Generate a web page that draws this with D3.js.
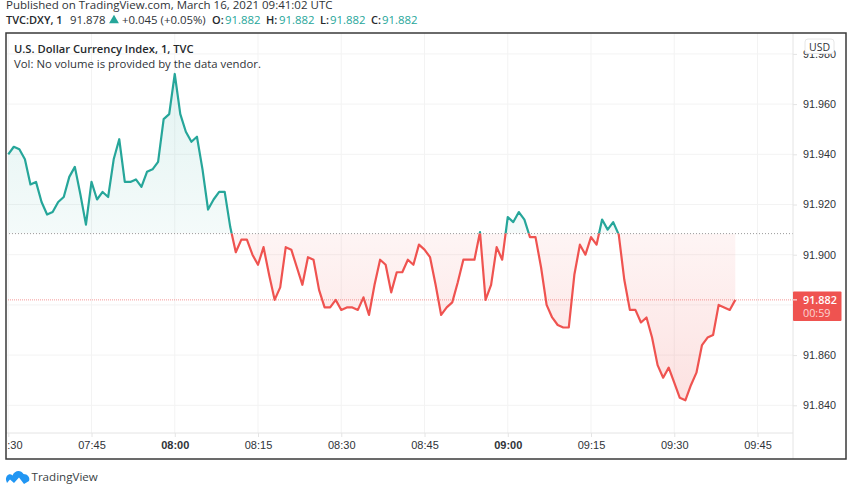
<!DOCTYPE html>
<html>
<head>
<meta charset="utf-8">
<script src="https://cdn.jsdelivr.net/npm/d3@7"></script>
<style>
  html, body { margin: 0; padding: 0; background: white; overflow: hidden; }
  svg { display: block; font-family: "Open Sans", sans-serif; }
  .axis path { display: none; }
</style>
</head>
<body>
<div id="chart"></div>
<script>
// one close per minute, starting 07:30
const startTime = "2021-03-16T07:30:00Z";
const prices = [
  91.940, 91.943, 91.942, 91.938, 91.928, 91.929, 91.921, 91.916, 91.917, 91.921,
  91.923, 91.931, 91.935, 91.924, 91.912, 91.929, 91.922, 91.925, 91.923, 91.938,
  91.946, 91.929, 91.929, 91.930, 91.927, 91.933, 91.934, 91.937, 91.954, 91.956,
  91.972, 91.956, 91.949, 91.945, 91.947, 91.934, 91.918, 91.922, 91.925, 91.925,
  91.911, 91.901, 91.906, 91.906, 91.900, 91.896, 91.903, 91.892, 91.882, 91.887,
  91.903, 91.902, 91.895, 91.888, 91.899, 91.898, 91.886, 91.879, 91.879, 91.882,
  91.878, 91.879, 91.879, 91.878, 91.883, 91.876, 91.888, 91.898, 91.896, 91.885,
  91.893, 91.893, 91.898, 91.896, 91.904, 91.902, 91.899, 91.888, 91.876, 91.879,
  91.881, 91.889, 91.898, 91.898, 91.898, 91.909, 91.882, 91.888, 91.903, 91.898,
  91.915, 91.913, 91.917, 91.914, 91.907, 91.907, 91.895, 91.880, 91.875, 91.872,
  91.871, 91.871, 91.892, 91.904, 91.900, 91.907, 91.904, 91.914, 91.910, 91.913,
  91.908, 91.890, 91.878, 91.878, 91.873, 91.875, 91.867, 91.856, 91.851, 91.855,
  91.849, 91.843, 91.842, 91.848, 91.853, 91.864, 91.867, 91.868, 91.880, 91.879,
  91.878, 91.882
];
const basePrice = 91.9084;
const lastPrice = 91.882;
const priceTicks = [91.84, 91.86, 91.88, 91.90, 91.92, 91.94, 91.96, 91.98];
const timeTicks = ["07:30", "07:45", "08:00", "08:15", "08:30", "08:45", "09:00", "09:15", "09:30", "09:45"];
const boldTimes = ["08:00", "09:00"];
const ohlc = [["O:", 212, 225], ["H:", 266, 279], ["L:", 320, 330], ["C:", 371, 382]];

const width = 852, height = 485;
const frame = { left: 6, top: 33, right: 846, bottom: 459, axisX: 793, axisY: 433 };

const up = "#26a69a", down = "#ef5350", textColor = "#2f3338", grid = "#f3f3f3";

const parseTime = d3.utcParse("%Y-%m-%dT%H:%M:%SZ");
const toDate = (t) => parseTime(`2021-03-16T${t}:00Z`);
const t0 = parseTime(startTime);
const points = prices.map((p, i) => ({ t: d3.utcMinute.offset(t0, i), p: p }));

const x = d3.scaleUtc()
    .domain([toDate("07:30"), toDate("09:45")])
    .range([8.25, 757.5]);

const y = d3.scaleLinear()
    .domain([91.84, 91.96])
    .range([405.3, 104.1]);

const svg = d3.select("#chart").append("svg")
    .attr("width", width)
    .attr("height", height);

const defs = svg.append("defs");

// plot and side clips
defs.append("clipPath").attr("id", "plot").append("rect")
    .attr("x", frame.left + 1).attr("y", frame.top)
    .attr("width", frame.axisX - frame.left - 1).attr("height", frame.axisY - frame.top);
defs.append("clipPath").attr("id", "above").append("rect")
    .attr("x", 0).attr("y", 0).attr("width", width).attr("height", y(basePrice));
defs.append("clipPath").attr("id", "below").append("rect")
    .attr("x", 0).attr("y", y(basePrice)).attr("width", width).attr("height", height - y(basePrice));
defs.append("clipPath").attr("id", "timeClip").append("rect")
    .attr("x", frame.left + 1).attr("y", frame.axisY)
    .attr("width", frame.axisX - frame.left - 1).attr("height", frame.bottom - frame.axisY);

// gradients for the two fills
const upGrad = defs.append("linearGradient").attr("id", "upFill")
    .attr("gradientUnits", "userSpaceOnUse")
    .attr("x1", 0).attr("x2", 0).attr("y1", y(d3.max(prices))).attr("y2", y(basePrice));
upGrad.append("stop").attr("offset", 0).attr("stop-color", up).attr("stop-opacity", 0.13);
upGrad.append("stop").attr("offset", 1).attr("stop-color", up).attr("stop-opacity", 0.05);

const downGrad = defs.append("linearGradient").attr("id", "downFill")
    .attr("gradientUnits", "userSpaceOnUse")
    .attr("x1", 0).attr("x2", 0).attr("y1", y(basePrice)).attr("y2", y(d3.min(prices)));
downGrad.append("stop").attr("offset", 0).attr("stop-color", down).attr("stop-opacity", 0.06);
downGrad.append("stop").attr("offset", 1).attr("stop-color", down).attr("stop-opacity", 0.17);

// START grid
const gridG = svg.append("g").attr("clip-path", "url(#plot)");
gridG.selectAll(".hgrid").data(priceTicks).enter().append("line")
    .attr("x1", frame.left).attr("x2", frame.axisX)
    .attr("y1", (d) => y(d)).attr("y2", (d) => y(d))
    .attr("stroke", grid);
gridG.selectAll(".vgrid").data(timeTicks).enter().append("line")
    .attr("x1", (d) => x(toDate(d))).attr("x2", (d) => x(toDate(d)))
    .attr("y1", frame.top).attr("y2", frame.axisY)
    .attr("stroke", grid);
// END grid

// START baseline area and line
const area = d3.area()
    .x((d) => x(d.t))
    .y0(y(basePrice))
    .y1((d) => y(d.p));
const line = d3.line()
    .x((d) => x(d.t))
    .y((d) => y(d.p));

const plot = svg.append("g").attr("clip-path", "url(#plot)");
plot.append("g").attr("clip-path", "url(#above)").append("path")
    .datum(points).attr("d", area).attr("fill", "url(#upFill)");
plot.append("g").attr("clip-path", "url(#below)").append("path")
    .datum(points).attr("d", area).attr("fill", "url(#downFill)");

plot.append("line")
    .attr("x1", frame.left).attr("x2", frame.axisX)
    .attr("y1", y(basePrice)).attr("y2", y(basePrice))
    .attr("stroke", "#9a9a9a").attr("stroke-dasharray", "1 2");
plot.append("line")
    .attr("x1", frame.left).attr("x2", frame.axisX)
    .attr("y1", y(lastPrice)).attr("y2", y(lastPrice))
    .attr("stroke", down).attr("stroke-opacity", 0.6).attr("stroke-dasharray", "1 1");

plot.append("g").attr("clip-path", "url(#above)").append("path")
    .datum(points).attr("d", line)
    .attr("fill", "none").attr("stroke", up).attr("stroke-width", 2.2).attr("stroke-linejoin", "round");
plot.append("g").attr("clip-path", "url(#below)").append("path")
    .datum(points).attr("d", line)
    .attr("fill", "none").attr("stroke", down).attr("stroke-width", 2.2).attr("stroke-linejoin", "round");
// END baseline area and line

// START axes
svg.append("g")
    .attr("class", "axis")
    .attr("transform", `translate(${frame.axisX}, 0)`)
    .call(d3.axisRight(y).tickValues(priceTicks).tickSize(4).tickPadding(6).tickFormat(d3.format(".3f")))
    .call((g) => g.selectAll("line").attr("stroke", "#e4e4e4"))
    .call((g) => g.selectAll("text").attr("fill", textColor).style("font-size", "10.8px"));

const timeAxis = svg.append("g")
    .attr("clip-path", "url(#timeClip)")
    .append("g")
    .attr("class", "axis")
    .attr("transform", `translate(0, ${frame.axisY})`)
    .call(d3.axisBottom(x)
        .tickValues(timeTicks.map(toDate))
        .tickSize(4).tickPadding(4)
        .tickFormat(d3.utcFormat("%H:%M")));
timeAxis.selectAll("line").attr("stroke", "#e4e4e4");
timeAxis.selectAll("text")
    .attr("fill", textColor)
    .style("font-size", "11px")
    .style("font-weight", (d) => boldTimes.includes(d3.utcFormat("%H:%M")(d)) ? 600 : 400);

// separators and outer frame
svg.append("line").attr("x1", frame.axisX).attr("x2", frame.axisX)
    .attr("y1", frame.top).attr("y2", frame.bottom).attr("stroke", "#e4e4e4");
svg.append("line").attr("x1", frame.left).attr("x2", frame.axisX)
    .attr("y1", frame.axisY).attr("y2", frame.axisY).attr("stroke", "#e4e4e4");
svg.append("rect")
    .attr("x", frame.left).attr("y", frame.top)
    .attr("width", frame.right - frame.left).attr("height", frame.bottom - frame.top)
    .attr("fill", "none").attr("stroke", "#3a3a3a").attr("stroke-width", 1.5);
// END axes

// last price label
svg.append("rect")
    .attr("x", frame.axisX).attr("y", y(lastPrice) - 8.5)
    .attr("width", 48.5).attr("height", 29.5)
    .attr("rx", 1).attr("fill", down);
svg.append("line")
    .attr("x1", frame.axisX).attr("x2", frame.axisX + 4)
    .attr("y1", y(lastPrice)).attr("y2", y(lastPrice))
    .attr("stroke", "white");
svg.append("text").attr("x", 803).attr("y", y(lastPrice) + 4)
    .attr("fill", "white").style("font-size", "10.8px").style("font-weight", 600)
    .text(d3.format(".3f")(lastPrice));
svg.append("text").attr("x", 803).attr("y", y(lastPrice) + 17)
    .attr("fill", "white").attr("fill-opacity", 0.75).style("font-size", "10.8px")
    .text("00:59");

// currency badge
svg.append("rect")
    .attr("x", 805).attr("y", 39).attr("width", 29).attr("height", 14.5).attr("rx", 3)
    .attr("fill", "white").attr("stroke", "#e6e6e6");
svg.append("text").attr("x", 819.5).attr("y", 50.5).attr("text-anchor", "middle")
    .attr("fill", textColor).style("font-size", "10.5px").text("USD");

// legend inside the plot
svg.append("text").attr("x", 14).attr("y", 53)
    .attr("fill", "#25282c").style("font-size", "11.2px").style("font-weight", 600)
    .text("U.S. Dollar Currency Index, 1, TVC");
svg.append("text").attr("x", 14).attr("y", 68)
    .attr("fill", textColor).style("font-size", "11.35px")
    .text("Vol: No volume is provided by the data vendor.");

// START header
svg.append("text").attr("x", 6).attr("y", 8.5)
    .attr("fill", textColor).style("font-size", "11.5px")
    .text("Published on TradingView.com, March 16, 2021 09:41:02 UTC");
svg.append("text").attr("x", 6).attr("y", 24)
    .attr("fill", "#25282c").style("font-size", "11px").style("font-weight", 600)
    .text("TVC:DXY, 1");
svg.append("text").attr("x", 70).attr("y", 24)
    .attr("fill", textColor).style("font-size", "11.4px").text("91.878");
svg.append("path")
    .attr("d", d3.symbol(d3.symbolTriangle, 42))
    .attr("transform", "translate(114, 20.5)")
    .attr("fill", up);
svg.append("text").attr("x", 122).attr("y", 24)
    .attr("fill", textColor).style("font-size", "11.4px").text("+0.045 (+0.05%)");

const ohlcG = svg.selectAll(".ohlc").data(ohlc).enter().append("g").attr("class", "ohlc");
ohlcG.append("text").attr("x", (d) => d[1]).attr("y", 24)
    .attr("fill", "#25282c").style("font-size", "11px").style("font-weight", 600)
    .text((d) => d[0]);
ohlcG.append("text").attr("x", (d) => d[2]).attr("y", 24)
    .attr("fill", up).style("font-size", "11.4px")
    .text(d3.format(".3f")(lastPrice));
// END header

// footer logo
svg.append("path")
    .attr("d", "M6 480 C5.5 475 10 472.5 12.5 475.5 C14.5 470 21 469.5 23.5 474 C27.5 474 30.5 477.5 29 481 L24 484 L19 477.5 L14 483 L10 479.5 L7 483 Z")
    .attr("fill", "#2196f3");
svg.append("text").attr("x", 31.5).attr("y", 481)
    .attr("fill", "#3a3f45").style("font-size", "11.6px")
    .text("TradingView");
</script>
</body>
</html>
